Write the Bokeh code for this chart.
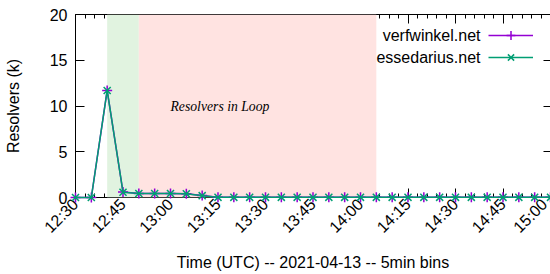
import math
import pandas as pd
from bokeh.plotting import figure
from bokeh.models import (DatetimeAxis, LinearAxis, FixedTicker, DatetimeTickFormatter,
                          CustomJSTickFormatter, BoxAnnotation, Label, Legend, LegendItem, Range1d)
from bokeh.embed import file_html
from bokeh.resources import INLINE

DAY = "2021-04-13"
times = ["12:30", "12:35", "12:40", "12:45", "12:50", "12:55", "13:00", "13:05", "13:10",
         "13:15", "13:20", "13:25", "13:30", "13:35", "13:40", "13:45", "13:50", "13:55",
         "14:00", "14:05", "14:10", "14:15", "14:20", "14:25", "14:30", "14:35", "14:40",
         "14:45", "14:50", "14:55", "15:00"]
verfwinkel = [0.0, 0.0, 11.7, 0.6, 0.45, 0.45, 0.45, 0.4, 0.22, 0.03, 0.03, 0.03, 0.03,
              0.03, 0.03, 0.03, 0.03, 0.03, 0.03, 0.03, 0.03, 0.03, 0.03, 0.03, 0.03,
              0.03, 0.03, 0.03, 0.03, 0.03, 0.03]
essedarius = [0.0, 0.0, 11.7, 0.58, 0.44, 0.44, 0.44, 0.4, 0.2, 0.02, 0.02, 0.02, 0.02,
              0.02, 0.02, 0.02, 0.02, 0.02, 0.02, 0.02, 0.02, 0.02, 0.02, 0.02, 0.02,
              0.02, 0.02, 0.02, 0.02, 0.02, 0.02]
tick_times = ["12:30", "12:45", "13:00", "13:15", "13:30", "13:45", "14:00", "14:15",
              "14:30", "14:45", "15:00"]
y_ticks = [0, 5, 10, 15, 20]
green_span = ("12:40", "12:50")
red_span = ("12:50", "14:05")
x_span = ("12:30", "15:00")
y_span = (0, 20)

def ms(t):
    return pd.Timestamp(f"{DAY} {t}").value / 1e6

xs = [ms(t) for t in times]
FONT = "Liberation Sans"
FS = "16px"

p = figure(width=550, height=274, output_backend="svg", toolbar_location=None,
           x_axis_type=None, y_axis_type=None,
           x_range=Range1d(ms(x_span[0]), ms(x_span[1])), y_range=Range1d(*y_span),
           min_border_left=75, min_border_right=0, min_border_top=14, min_border_bottom=77)
p.grid.visible = False
p.outline_line_color = None
p.background_fill_color = "white"

major_x = [ms(t) for t in tick_times]
minor_x = [ms(x_span[0]) + i * 180000 for i in range(0, 51)]
fmt = DatetimeTickFormatter(minutes="%H:%M", hourmin="%H:%M", hours="%H:%M", minsec="%H:%M")

def style(ax, labels=True):
    ax.major_tick_in = 9
    ax.major_tick_out = 0
    ax.minor_tick_in = 4
    ax.minor_tick_out = 0
    ax.axis_line_color = "black"
    ax.major_tick_line_color = "black"
    ax.minor_tick_line_color = "black"
    ax.major_label_text_font = FONT
    ax.major_label_text_font_size = FS
    ax.major_label_text_color = "black"
    ax.axis_label_text_font = FONT
    ax.axis_label_text_font_size = FS
    ax.axis_label_text_font_style = "normal"
    ax.axis_label_text_color = "black"
    if not labels:
        ax.major_label_standoff = 0
        ax.formatter = CustomJSTickFormatter(code="return ''")

xb = DatetimeAxis(ticker=FixedTicker(ticks=major_x, minor_ticks=minor_x), formatter=fmt,
                  axis_label="Time (UTC) -- 2021-04-13 -- 5min bins")
style(xb)
xb.major_label_orientation = math.pi / 4
xb.major_label_standoff = 4
xb.axis_label_standoff = 9
p.add_layout(xb, "below")

xt = DatetimeAxis(ticker=FixedTicker(ticks=major_x, minor_ticks=minor_x))
style(xt, labels=False)
p.add_layout(xt, "above")

yl = LinearAxis(ticker=FixedTicker(ticks=y_ticks), axis_label="Resolvers (k)")
style(yl)
yl.minor_tick_line_color = None
yl.major_label_standoff = 8
yl.axis_label_standoff = 25
p.add_layout(yl, "left")

yr = LinearAxis(ticker=FixedTicker(ticks=y_ticks))
style(yr, labels=False)
yr.minor_tick_line_color = None
yr.axis_line_color = None
yr.major_tick_in = 7
p.add_layout(yr, "right")

p.add_layout(BoxAnnotation(left=ms(green_span[0]), right=ms(green_span[1]),
                           fill_color="#e1f3e0", fill_alpha=1, line_color=None, level="annotation"))
p.add_layout(BoxAnnotation(left=ms(red_span[0]), right=ms(red_span[1]),
                           fill_color="#ffe3e1", fill_alpha=1, line_color=None, level="annotation"))

PURPLE = "#9400d3"
GREEN = "#009e73"
l1 = p.line(xs, verfwinkel, line_color=PURPLE, line_width=1.5, level="overlay")
m1 = p.scatter(xs, verfwinkel, marker="cross", size=10, line_color=PURPLE, line_width=1.5, level="overlay")
l2 = p.line(xs, essedarius, line_color=GREEN, line_width=1.5, level="overlay")
m2 = p.scatter(xs, essedarius, marker="x", size=10, line_color=GREEN, line_width=1.5, level="overlay")

p.add_layout(Label(x=ms("13:00"), y=10, text="Resolvers in Loop", text_font="Liberation Serif",
                   text_font_style="italic", text_font_size="13.7px", text_color="black",
                   text_baseline="middle", text_align="left", level="overlay"))

legend = Legend(items=[LegendItem(label="verfwinkel.net", renderers=[l1, m1]),
                       LegendItem(label="essedarius.net", renderers=[l2, m2])],
                location=(413, 129), glyph_width=45, glyph_height=22, label_height=22,
                label_width=0, label_standoff=0, label_text_font_size="1px",
                label_text_alpha=0, label_text_font=FONT,
                padding=0, margin=0, spacing=0, border_line_color=None,
                background_fill_alpha=0, level="overlay")
p.add_layout(legend)
for i, name in enumerate(["verfwinkel.net", "essedarius.net"]):
    p.add_layout(Label(x=405, y=162 - 22 * i, x_units="screen", y_units="screen", text=name,
                       text_font=FONT, text_font_size=FS, text_color="black",
                       text_align="right", text_baseline="middle", level="overlay"))

open("out.html", "w").write(file_html(p, INLINE))
